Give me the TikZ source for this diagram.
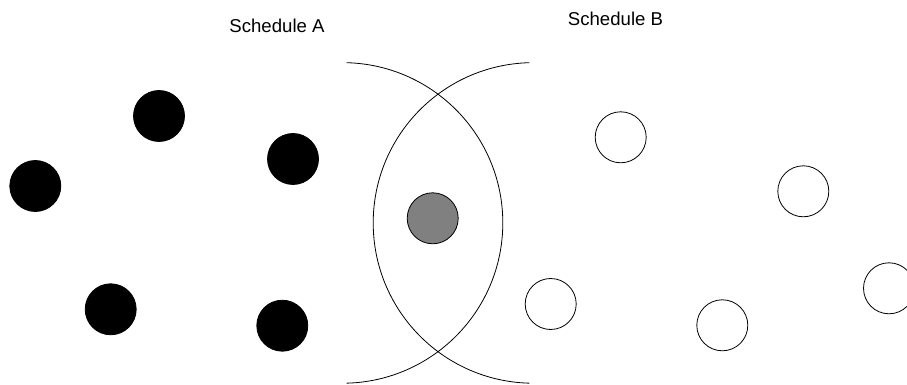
\documentclass[tikz,border=0pt]{standalone}
\usepackage{fontspec}
\setmainfont{Liberation Sans}
\usetikzlibrary{positioning}

\begin{document}
\begin{tikzpicture}[
x=1pt,
y=1pt,
job/.style={
circle,
draw,
minimum size=51pt,
inner sep=0pt,
line width=0.8pt
},
job-a/.style={
job,
fill=black
},
job-b/.style={
job,
fill=white
},
shared/.style={
job,
fill=gray
},
title/.style={
font=\fontsize{18.6}{22}\selectfont
},
bound/.style={
line width=0.8pt
}
]
\useasboundingbox (0,0) rectangle (907,385);

% Titles
\node[title] (sched-a) at (277,359) {Schedule A};
\node[title] (sched-b) at (615.5,366) {Schedule B};

% Schedule A
\node[job-a] (a-one) at (35.3,199) {};
\node[job-a] (a-two) at (159,269) {};
\node[job-a] (a-three) at (293,226) {};
\node[job-a] (a-four) at (110.7,75.7) {};
\node[job-a] (a-five) at (282.3,59.3) {};

% Schedule B
\node[job-b] (b-one) at (620.7,247.7) {};
\node[job-b] (b-two) at (803.3,193.7) {};
\node[job-b] (b-three) at (550.7,81) {};
\node[job-b] (b-four) at (722.3,59.7) {};
\node[job-b] (b-five) at (889,96.7) {};

% Overlap
\node[shared] (common) at (432.7,166.7) {};
\draw[bound] (346.7,322.3) arc[start angle=88.5, end angle=-88.5, radius=160.3];
\draw[bound] (529.3,322.3) arc[start angle=91.5, end angle=268.5, radius=160.3];
\end{tikzpicture}
\end{document}
